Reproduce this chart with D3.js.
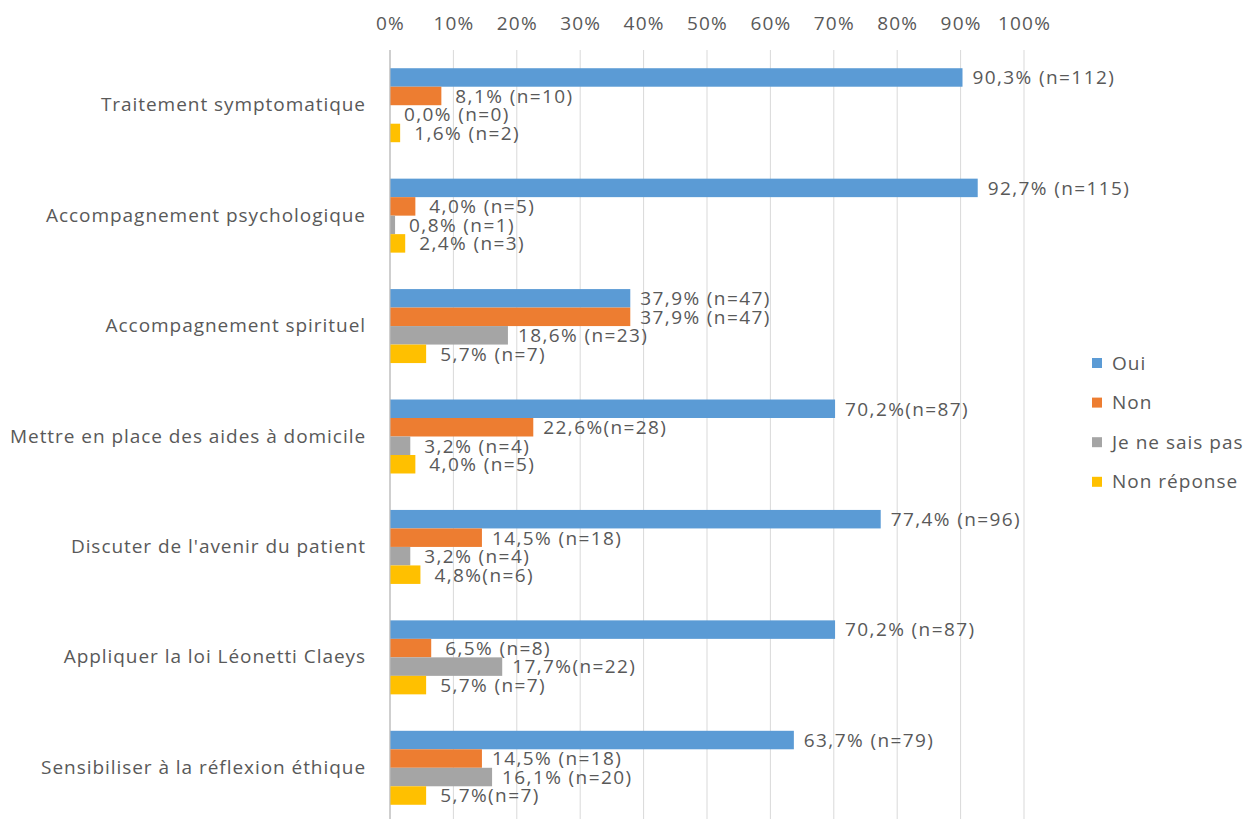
<!DOCTYPE html>
<html><head><meta charset="utf-8">
<script src="https://cdn.jsdelivr.net/npm/d3@7"></script>
<style>body{margin:0;background:#fff;} svg{display:block;} text{font-family:"Open Sans", sans-serif;fill:#595959;}</style>
</head><body>
<svg id="c" width="1246" height="819"></svg>
<script>
const categories = ["Traitement symptomatique","Accompagnement psychologique","Accompagnement spirituel","Mettre en place des aides à domicile","Discuter de l'avenir du patient","Appliquer la loi Léonetti Claeys","Sensibiliser à la réflexion éthique"];
const seriesNames = ["Oui","Non","Je ne sais pas","Non réponse"];
const colors = ["#5B9BD5","#ED7D31","#A5A5A5","#FFC000"];
const oui = [90.3,92.7,37.9,70.2,77.4,70.2,63.7];
const non = [8.1,4.0,37.9,22.6,14.5,6.5,14.5];
const nsp = [0.0,0.8,18.6,3.2,3.2,17.7,16.1];
const nonRep = [1.6,2.4,5.7,4.0,4.8,5.7,5.7];
const ouiLabels = ["90,3% (n=112)","92,7% (n=115)","37,9% (n=47)","70,2%(n=87)","77,4% (n=96)","70,2% (n=87)","63,7% (n=79)"];
const nonLabels = ["8,1% (n=10)","4,0% (n=5)","37,9% (n=47)","22,6%(n=28)","14,5% (n=18)","6,5% (n=8)","14,5% (n=18)"];
const nspLabels = ["0,0% (n=0)","0,8% (n=1)","18,6% (n=23)","3,2% (n=4)","3,2% (n=4)","17,7%(n=22)","16,1% (n=20)"];
const nonRepLabels = ["1,6% (n=2)","2,4% (n=3)","5,7% (n=7)","4,0% (n=5)","4,8%(n=6)","5,7% (n=7)","5,7%(n=7)"];
const tickValues = [0,10,20,30,40,50,60,70,80,90,100];

const values = [oui, non, nsp, nonRep];
const labels = [ouiLabels, nonLabels, nspLabels, nonRepLabels];
const FONT = '"Open Sans", sans-serif';

const svg = d3.select("#c");
const x = d3.scaleLinear().domain([0,100]).range([390,1024]);
const y = d3.scaleBand().domain(categories).range([50,823]).paddingInner(0.33).paddingOuter(0.165);
const y1 = d3.scaleBand().domain(d3.range(4)).range([0,y.bandwidth()]);

// gridlines
svg.append("g").selectAll("line").data(tickValues).join("line")
  .attr("x1",d=>x(d)).attr("x2",d=>x(d)).attr("y1",50).attr("y2",819)
  .attr("stroke",d=>d===0?"#BFBFBF":"#D9D9D9").attr("stroke-width",1);

// top axis labels
const ax = svg.append("g").attr("transform","translate(0,23)")
  .call(d3.axisTop(x).tickValues(tickValues).tickFormat(d=>d+"%").tickSize(0).tickPadding(0));
ax.select(".domain").remove();
ax.selectAll("text").attr("font-size",19).attr("letter-spacing","1.2px").attr("fill","#595959").attr("font-family",FONT).attr("dy","0.35em");

// category labels
const yax = svg.append("g").attr("transform","translate(366,0)")
  .call(d3.axisLeft(y).tickSize(0).tickPadding(0));
yax.select(".domain").remove();
yax.selectAll("text").attr("font-size",19).attr("letter-spacing","0.95px").attr("fill","#595959").attr("font-family",FONT);

// bars
const groups = svg.append("g").selectAll("g").data(categories).join("g")
  .attr("transform",c=>`translate(0,${y(c)})`);
groups.each(function(c,ci){
  const g = d3.select(this);
  for(let s=0;s<4;s++){
    const v = values[s][ci];
    g.append("rect").attr("x",x(0)).attr("y",y1(s)).attr("width",x(v)-x(0)).attr("height",y1.bandwidth())
      .attr("fill",colors[s]);
    g.append("text").attr("x",x(v)+(v<10?14:10)).attr("y",y1(s)+y1.bandwidth()/2).attr("dy","0.36em")
      .attr("font-size",19).attr("letter-spacing","1.4px").text(labels[s][ci]);
  }
});

// axis line
svg.append("line").attr("x1",x(0)).attr("x2",x(0)).attr("y1",50).attr("y2",819).attr("stroke","#BFBFBF");

// legend
const lg = svg.append("g").selectAll("g").data(seriesNames).join("g")
  .attr("transform",(d,i)=>`translate(1092,${363+i*39.6})`);
lg.append("rect").attr("x",0).attr("y",-5).attr("width",10).attr("height",10).attr("fill",(d,i)=>colors[i]);
lg.append("text").attr("x",20).attr("dy","0.35em").attr("font-size",19).attr("letter-spacing","1px").text(d=>d);
</script>
</body></html>
